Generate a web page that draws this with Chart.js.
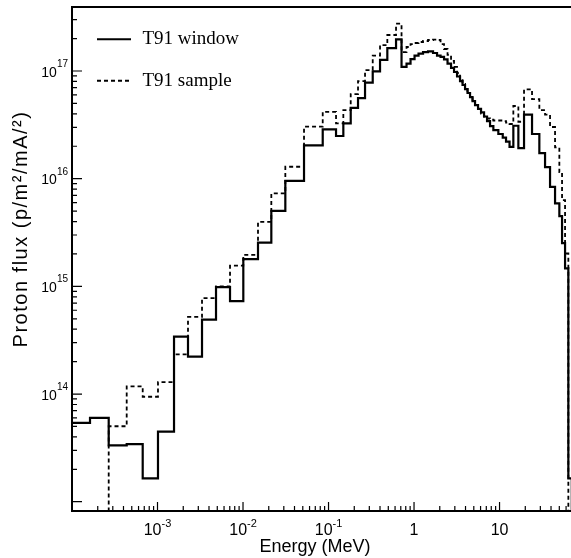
<!DOCTYPE html>
<html>
<head>
<meta charset="utf-8">
<title>Proton flux</title>
<script src="https://cdn.jsdelivr.net/npm/chart.js@4.4.0/dist/chart.umd.min.js"></script>
<style>
  body { margin: 0; background: #fff; }
  canvas { display: block; }
</style>
</head>
<body>
<canvas id="chart" width="571" height="558"></canvas>
<script>
// energy bin edges in MeV (one more entry than there are bins)
const binEdges = [
  1.000e-4, 1.624e-4, 2.687e-4, 4.362e-4, 6.712e-4, 1.013e-3, 1.560e-3, 2.273e-3,
  3.315e-3, 4.833e-3, 7.047e-3, 1.008e-2, 1.497e-2, 2.143e-2, 3.125e-2, 5.169e-2,
  8.553e-2, 0.1224, 0.1490, 0.1818, 0.2213, 0.2673, 0.3288, 0.4003, 0.4872, 0.6160,
  0.7143, 0.8172, 0.9102, 1.014, 1.129, 1.274, 1.458, 1.668, 1.858, 2.042, 2.243,
  2.465, 2.709, 2.937, 3.184, 3.451, 3.692, 3.950, 4.224, 4.519, 4.833, 5.170, 5.605,
  6.076, 6.589, 7.142, 7.743, 8.466, 9.683, 10.90, 11.91, 13.09, 14.50, 16.60, 19.34,
  23.99, 29.21, 34.06, 38.96, 44.58, 50.05, 53.83, 58.37, 63.78, 70
];

// proton flux per bin, p/m2/mA
const windowFlux = [
  5.39e13, 6.00e13, 3.34e13, 3.42e13, 1.65e13, 4.48e13, 3.42e14, 2.23e14, 4.90e14, 9.83e14,
  7.29e14, 1.79e15, 2.55e15, 5.02e15, 9.54e15, 2.04e16, 2.87e16, 2.49e16, 3.27e16, 4.55e16,
  5.61e16, 7.79e16, 9.94e16, 1.27e17, 1.63e17, 1.97e17, 1.09e17, 1.17e17, 1.29e17, 1.39e17,
  1.45e17, 1.50e17, 1.52e17, 1.47e17, 1.39e17, 1.35e17, 1.28e17, 1.17e17, 1.07e17, 9.79e16,
  8.89e16, 8.07e16, 7.41e16, 6.80e16, 6.25e16, 5.73e16, 5.26e16, 4.83e16, 4.44e16, 4.12e16,
  3.78e16, 3.43e16, 3.08e16, 2.83e16, 2.60e16, 2.41e16, 2.21e16, 1.97e16, 3.10e16, 1.92e16,
  3.94e16, 2.60e16, 1.73e16, 1.28e16, 8.41e15, 5.89e15, 4.49e15, 2.52e15, 1.47e15, 1.65e13
];
// 0 = empty bin
const sampleFlux = [
  0, 0, 5.02e13, 1.18e14, 9.44e13, 1.29e14, 2.34e14, 5.21e14, 7.77e14, 1.00e15,
  1.56e15, 1.96e15, 3.97e15, 7.30e15, 1.29e16, 3.04e16, 4.18e16, 3.27e16, 4.34e16, 6.11e16,
  8.07e16, 1.02e17, 1.39e17, 1.74e17, 2.16e17, 2.75e17, 1.50e17, 1.67e17, 1.78e17, 1.82e17,
  1.86e17, 1.90e17, 1.94e17, 1.96e17, 1.94e17, 1.78e17, 1.60e17, 1.41e17, 1.24e17, 1.09e17,
  9.58e16, 8.43e16, 7.57e16, 6.80e16, 6.18e16, 5.61e16, 5.10e16, 4.68e16, 4.34e16, 4.03e16,
  3.78e16, 3.62e16, 3.54e16, 3.47e16, 3.47e16, 3.43e16, 3.32e16, 3.22e16, 4.73e16, 3.38e16,
  6.76e16, 5.49e16, 4.34e16, 3.94e16, 3.02e16, 1.95e16, 1.15e16, 6.33e15, 2.02e15, 0
];

const seriesNames = ['T91 window', 'T91 sample'];
const xTickValues = [1e-3, 1e-2, 1e-1, 1, 10];
const xTickLabels = ['10^-3', '10^-2', '10^-1', '1', '10'];
const yTickValues = [1e14, 1e15, 1e16, 1e17];
const yTickLabels = ['10^14', '10^15', '10^16', '10^17'];

// empty bins are pushed far below the axis so the step falls off the plot
const FLOOR = 1e10;

function toSteps(vals) {
  const pts = vals.map((v, i) => ({ x: binEdges[i], y: v > 0 ? v : FLOOR }));
  pts.push({ x: binEdges[vals.length], y: FLOOR });
  return pts;
}

// "10^-3" -> big "10" with a small raised exponent
function drawPower(ctx, label, left, base, bigFont, smallFont, rise) {
  const parts = label.split('^');
  ctx.font = bigFont;
  ctx.fillText(parts[0], left, base);
  if (parts[1]) {
    const w = ctx.measureText(parts[0]).width;
    ctx.font = smallFont;
    ctx.fillText(parts[1], left + w, base - rise);
  }
}
function powerWidth(ctx, label, bigFont, smallFont) {
  const parts = label.split('^');
  ctx.font = bigFont;
  let w = ctx.measureText(parts[0]).width;
  if (parts[1]) { ctx.font = smallFont; w += ctx.measureText(parts[1]).width; }
  return w;
}

// frame, inward ticks, tick labels and titles in the ROOT style
const axisFrame = {
  id: 'axisFrame',
  afterDraw(chart) {
    const { ctx, chartArea: a, scales } = chart;
    const x = scales.x, y = scales.y;
    ctx.save();
    ctx.strokeStyle = '#000';
    ctx.fillStyle = '#000';

    ctx.lineWidth = 2;
    ctx.beginPath();
    ctx.moveTo(a.right + 2, a.top);
    ctx.lineTo(a.left, a.top);
    ctx.lineTo(a.left, a.bottom);
    ctx.lineTo(a.right + 2, a.bottom);
    ctx.stroke();

    ctx.lineWidth = 1.2;
    ctx.beginPath();
    for (let e = -4; e <= 1; e++) {
      for (let m = 1; m <= 9; m++) {
        const v = m * Math.pow(10, e);
        if (v <= x.min || v > x.max) continue;
        const px = x.getPixelForValue(v);
        ctx.moveTo(px, a.bottom);
        ctx.lineTo(px, a.bottom - (m === 1 ? 9 : 5));
      }
    }
    for (let e = 13; e <= 17; e++) {
      for (let m = 1; m <= 9; m++) {
        const v = m * Math.pow(10, e);
        if (v < y.min || v > y.max) continue;
        const py = y.getPixelForValue(v);
        ctx.moveTo(a.left, py);
        ctx.lineTo(a.left + (m === 1 ? 10 : 5), py);
      }
    }
    ctx.stroke();

    const fx = '16px "Liberation Sans"', fxs = '11px "Liberation Sans"';
    ctx.textAlign = 'left';
    ctx.textBaseline = 'alphabetic';
    xTickValues.forEach((v, i) => {
      const w = powerWidth(ctx, xTickLabels[i], fx, fxs);
      drawPower(ctx, xTickLabels[i], x.getPixelForValue(v) - w / 2, 535, fx, fxs, 8);
    });
    const fy = '14px "Liberation Sans"', fys = '10px "Liberation Sans"';
    yTickValues.forEach((v, i) => {
      const w = powerWidth(ctx, yTickLabels[i], fy, fys);
      drawPower(ctx, yTickLabels[i], 68 - w, y.getPixelForValue(v) + 5.5, fy, fys, 9.5);
    });

    ctx.textAlign = 'center';
    ctx.font = '18px "Liberation Sans"';
    ctx.fillText('Energy (MeV)', 315, 552);
    ctx.translate(27, 229);
    ctx.rotate(-Math.PI / 2);
    ctx.font = '20px "Liberation Sans"';
    ctx.letterSpacing = '1.5px';
    ctx.fillText('Proton flux (p/m²/mA/²)', 0, 0);
    ctx.restore();
  }
};

// legend in the upper left of the plot, built from the datasets
const insideLegend = {
  id: 'insideLegend',
  afterDraw(chart) {
    const ctx = chart.ctx;
    ctx.save();
    chart.data.datasets.forEach((ds, i) => {
      const ly = 39.3 + i * 41.4;
      ctx.strokeStyle = '#000';
      ctx.lineWidth = 2;
      ctx.setLineDash(ds.borderDash || []);
      ctx.beginPath();
      ctx.moveTo(97, ly);
      ctx.lineTo(131, ly);
      ctx.stroke();
      ctx.setLineDash([]);
      ctx.fillStyle = '#000';
      ctx.font = '19px "Liberation Serif"';
      ctx.textBaseline = 'alphabetic';
      ctx.fillText(ds.label, 142.5, ly + 5);
    });
    ctx.restore();
  }
};

new Chart(document.getElementById('chart'), {
  type: 'line',
  data: {
    datasets: [
      {
        label: seriesNames[0],
        data: toSteps(windowFlux),
        borderColor: '#000',
        borderWidth: 2.2,
        stepped: true,
        pointRadius: 0,
        fill: false
      },
      {
        label: seriesNames[1],
        data: toSteps(sampleFlux),
        borderColor: '#000',
        borderWidth: 1.8,
        borderDash: [4, 3],
        stepped: true,
        pointRadius: 0,
        fill: false
      }
    ]
  },
  options: {
    responsive: false,
    animation: false,
    layout: { padding: { left: 72, top: 7, right: 0, bottom: 47 } },
    plugins: { legend: { display: false }, tooltip: { enabled: false } },
    scales: {
      x: { type: 'logarithmic', min: 1e-4, max: 68.5, bounds: 'data', display: false },
      y: { type: 'logarithmic', min: 8.2e12, max: 3.93e17, bounds: 'data', display: false }
    }
  },
  plugins: [axisFrame, insideLegend]
});
</script>
</body>
</html>
